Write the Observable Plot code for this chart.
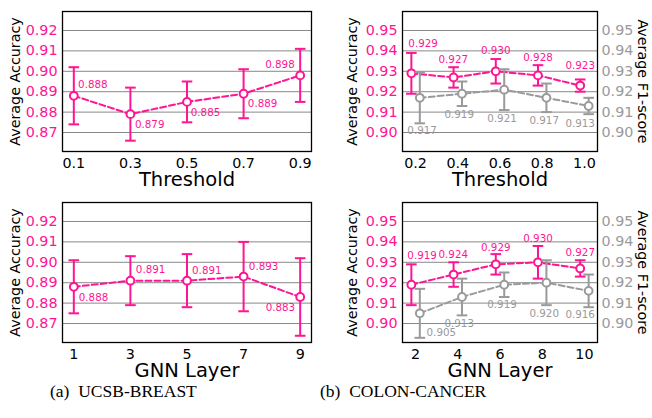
<!DOCTYPE html>
<html>
<head>
<meta charset="utf-8">
<script src="https://cdn.jsdelivr.net/npm/d3@7"></script>
<script src="https://cdn.jsdelivr.net/npm/@observablehq/plot@0.6"></script>
<style>
  html, body { margin: 0; padding: 0; background: #fff; }
  body { width: 652px; height: 418px; position: relative; overflow: hidden; font-family: "DejaVu Sans", sans-serif; }
  .panel { position: absolute; }
  .cap { position: absolute; top: 383px; font-family: "Liberation Serif", serif; font-size: 17.5px; line-height: 17px; white-space: pre; color: #000; }
</style>
</head>
<body>
<div id="p1" class="panel" style="left:0px;top:0px"></div>
<div id="p2" class="panel" style="left:326px;top:0px"></div>
<div id="p3" class="panel" style="left:0px;top:191px"></div>
<div id="p4" class="panel" style="left:326px;top:191px"></div>
<div class="cap" style="left:50px">(a)  UCSB-BREAST</div>
<div class="cap" style="left:320px">(b)  COLON-CANCER</div>
<script>
// ---------------- data ----------------
// (a) UCSB-BREAST
const thresholdsA = [0.1, 0.3, 0.5, 0.7, 0.9];
const accThrA     = [0.888, 0.879, 0.885, 0.889, 0.898];
const errAccThrA  = [0.014, 0.013, 0.010, 0.012, 0.013];
const layersA     = [1, 3, 5, 7, 9];
const accLayA     = [0.888, 0.891, 0.891, 0.893, 0.883];
const errAccLayA  = [0.013, 0.012, 0.013, 0.017, 0.019];
// (b) COLON-CANCER
const thresholdsB = [0.2, 0.4, 0.6, 0.8, 1.0];
const accThrB     = [0.929, 0.927, 0.930, 0.928, 0.923];
const errAccThrB  = [0.010, 0.005, 0.006, 0.005, 0.003];
const f1ThrB      = [0.917, 0.919, 0.921, 0.917, 0.913];
const errF1ThrB   = [0.0125, 0.006, 0.010, 0.007, 0.004];
const layersB     = [2, 4, 6, 8, 10];
const accLayB     = [0.919, 0.924, 0.929, 0.930, 0.927];
const errAccLayB  = [0.010, 0.006, 0.005, 0.008, 0.004];
const f1LayB      = [0.905, 0.913, 0.919, 0.920, 0.916];
const errF1LayB   = [0.012, 0.009, 0.006, 0.011, 0.008];
// tick values
const yTicksA = [0.87, 0.88, 0.89, 0.90, 0.91, 0.92];
const yTicksB = [0.90, 0.91, 0.92, 0.93, 0.94, 0.95];

// ---------------- styling ----------------
const PINK = "#ff1493";
const GRAY = "#9a9a9a";
const GRID = "#888888";
// label nudges (pixels) for value annotations
const nudgeAccThrA = [[19,-10.7],[19.3,10.7],[18.5,10.7],[19,10.3],[-20.2,-10.7]];
const nudgeAccLayA = [[19.7,11],[20.2,-10.7],[19.8,-9.7],[20,-10],[-19.8,11]];
const nudgeAccThrB = [[11.7,-29.3],[-0.3,-17.7],[0,-20.3],[0,-17.7],[0,-20]];
const nudgeF1ThrB  = [[2.3,33],[-2.8,21],[-2.2,29],[-2.2,22.7],[-8.5,17.3]];
const nudgeAccLayB = [[10.7,-29.3],[-0.3,-19.7],[0,-17],[0,-24],[0,-16]];
const nudgeF1LayB  = [[21.5,19.3],[-2.8,26.7],[-2.2,20],[-2.2,30.7],[-8.5,24]];

const capSymbol = {
  draw(ctx, size) {
    const h = Math.sqrt(size / Math.PI);
    ctx.moveTo(-h, 0);
    ctx.lineTo(h, 0);
  }
};
const fmt3 = d3.format(".3f");

function seriesMarks(xs, ys, errs, shift, color) {
  const data = xs.map((x, i) => ({x: x + shift, y: ys[i], lo: ys[i] - errs[i], hi: ys[i] + errs[i]}));
  return [
    Plot.ruleX(data, {x: "x", y1: "lo", y2: "hi", stroke: color, strokeWidth: 2}),
    Plot.dot(data, {x: "x", y: "lo", symbol: capSymbol, r: 5.3, stroke: color, fill: "none", strokeWidth: 2}),
    Plot.dot(data, {x: "x", y: "hi", symbol: capSymbol, r: 5.3, stroke: color, fill: "none", strokeWidth: 2}),
    Plot.line(data, {x: "x", y: "y", stroke: color, strokeWidth: 2, strokeDasharray: "6,3"}),
    Plot.dot(data, {x: "x", y: "y", r: 3.9, fill: "white", stroke: color, strokeWidth: 2})
  ];
}
function labelMarks(xs, ys, shift, nudges, color) {
  return xs.map((x, i) => Plot.text([{x: x + shift, y: ys[i]}], {
    x: "x", y: "y", text: d => fmt3(d.y), dx: nudges[i][0], dy: nudges[i][1],
    fill: color, fontSize: 10.3, textAnchor: "middle", lineAnchor: "middle"
  }));
}

function panel(el, cfg) {
  const step = cfg.xs[1] - cfg.xs[0];
  const off = cfg.dual ? step * 0.1 : 0;
  const marks = [
    Plot.gridY(cfg.yTicks, {stroke: GRID, strokeOpacity: 1, strokeWidth: 1}),
    ...seriesMarks(cfg.xs, cfg.acc, cfg.accErr, -off, PINK),
    ...(cfg.dual ? seriesMarks(cfg.xs, cfg.f1, cfg.f1Err, off, GRAY) : []),
    Plot.frame({stroke: "black", strokeWidth: 1.3}),
    Plot.axisY(cfg.yTicks, {anchor: "left", tickSize: 0, tickPadding: 5, tickFormat: d3.format(".2f"), color: PINK, fontSize: 14.3, label: null}),
    Plot.axisX(cfg.xs, {anchor: "bottom", tickSize: 0, tickPadding: 6, tickFormat: cfg.xFmt, color: "black", fontSize: 14.3, label: null}),
    Plot.text([cfg.xTitle], {frameAnchor: "bottom", text: d => d, dy: 28, fontSize: 19.5, fill: "black", textAnchor: "middle", lineAnchor: "middle"}),
    Plot.text(["Average Accuracy"], {frameAnchor: "left", text: d => d, rotate: -90, dx: cfg.yTitleDx, fontSize: 14.3, fill: "black", textAnchor: "middle", lineAnchor: "middle"}),
    ...labelMarks(cfg.xs, cfg.acc, -off, cfg.accNudge, PINK)
  ];
  if (cfg.dual) {
    marks.push(
      Plot.axisY(cfg.yTicks, {anchor: "right", tickSize: 0, tickPadding: 4, tickFormat: d3.format(".2f"), color: GRAY, fontSize: 14.3, label: null}),
      Plot.text(["Average F1-score"], {frameAnchor: "right", text: d => d, rotate: 90, dx: 45.5, fontSize: 14.3, fill: "black", textAnchor: "middle", lineAnchor: "middle"}),
      ...labelMarks(cfg.xs, cfg.f1, off, cfg.f1Nudge, GRAY)
    );
  }
  const chart = Plot.plot({
    width: 326, height: 195,
    marginLeft: cfg.marginLeft, marginRight: cfg.marginRight, marginTop: 11, marginBottom: 44,
    style: {fontFamily: "DejaVu Sans", fontSize: "14.3px", background: "transparent", overflow: "visible"},
    x: {domain: cfg.xDomain, axis: null},
    y: {domain: cfg.yDomain, axis: null},
    marks
  });
  document.getElementById(el).appendChild(chart);
}

const fmt1 = d3.format(".1f");
const fmt0 = d3.format("d");

panel("p1", {xs: thresholdsA, acc: accThrA, accErr: errAccThrA, accNudge: nudgeAccThrA,
  xDomain: [0.06, 0.94], yDomain: [0.8607, 0.9293], yTicks: yTicksA, xFmt: fmt1, xTitle: "Threshold",
  marginLeft: 62, marginRight: 15, yTitleDx: -47.5, dual: false});
panel("p3", {xs: layersA, acc: accLayA, accErr: errAccLayA, accNudge: nudgeAccLayA,
  xDomain: [0.6, 9.4], yDomain: [0.8607, 0.9293], yTicks: yTicksA, xFmt: fmt0, xTitle: "GNN Layer",
  marginLeft: 62, marginRight: 15, yTitleDx: -47.5, dual: false});
panel("p2", {xs: thresholdsB, acc: accThrB, accErr: errAccThrB, accNudge: nudgeAccThrB,
  f1: f1ThrB, f1Err: errF1ThrB, f1Nudge: nudgeF1ThrB,
  xDomain: [0.138, 1.062], yDomain: [0.8907, 0.9593], yTicks: yTicksB, xFmt: fmt1, xTitle: "Threshold",
  marginLeft: 76, marginRight: 55, yTitleDx: -50, dual: true});
panel("p4", {xs: layersB, acc: accLayB, accErr: errAccLayB, accNudge: nudgeAccLayB,
  f1: f1LayB, f1Err: errF1LayB, f1Nudge: nudgeF1LayB,
  xDomain: [1.38, 10.62], yDomain: [0.8907, 0.9593], yTicks: yTicksB, xFmt: fmt0, xTitle: "GNN Layer",
  marginLeft: 76, marginRight: 55, yTitleDx: -50, dual: true});
</script>
</body>
</html>
